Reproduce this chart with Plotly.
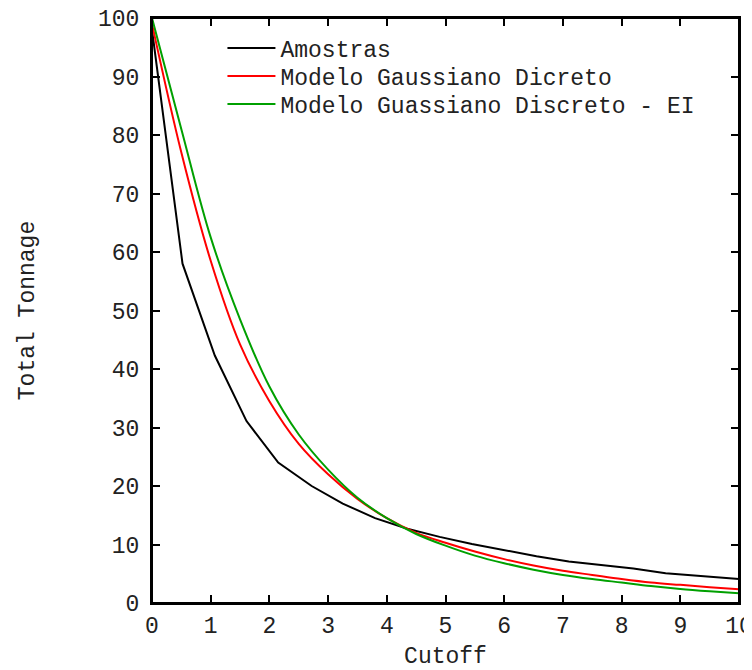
import plotly.graph_objects as go

# Data
amostras_x = [0, 0.52, 1.07, 1.61, 2.15, 2.72, 3.25, 3.8, 4.35, 4.9, 5.45, 6.0, 6.55, 7.1, 7.65, 8.2, 8.75, 9.3, 10]
amostras_y = [98, 58, 42.3, 31.1, 24, 20, 17, 14.5, 12.7, 11.3, 10.1, 9.0, 8.0, 7.1, 6.5, 5.9, 5.1, 4.7, 4.1]

modelo_x = [0, 0.5, 1, 1.5, 2, 2.5, 3, 3.5, 4, 4.5, 5, 5.5, 6, 6.5, 7, 7.5, 8, 8.5, 9, 9.5, 10]
gauss_y = [99, 77, 58.5, 44.2, 34.5, 27.2, 22, 17.8, 14.5, 12.0, 10.3, 8.8, 7.5, 6.4, 5.5, 4.8, 4.1, 3.5, 3.1, 2.7, 2.35]
gauss_ei_y = [100, 81, 62.5, 48.5, 37, 28.8, 22.8, 18, 14.5, 11.8, 9.8, 8.1, 6.8, 5.7, 4.8, 4.1, 3.5, 2.9, 2.4, 2.0, 1.65]

series_names = ["Amostras", "Modelo Gaussiano Dicreto", "Modelo Guassiano Discreto - EI"]

x_ticks = list(range(0, 11))
y_ticks = list(range(0, 101, 10))
x_range = [0, 10]
y_range = [0, 100]

FONT = "Liberation Mono, Courier New, monospace"
TXT = "#222222"

fig = go.Figure()
fig.add_trace(go.Scatter(x=amostras_x, y=amostras_y, mode="lines", name=series_names[0],
                         line=dict(color="#000000", width=2), legend="legend"))
fig.add_trace(go.Scatter(x=modelo_x, y=gauss_y, mode="lines", name=series_names[1],
                         line=dict(color="#ff0000", width=2, shape="spline"), legend="legend2"))
fig.add_trace(go.Scatter(x=modelo_x, y=gauss_ei_y, mode="lines", name=series_names[2],
                         line=dict(color="#00a000", width=2, shape="spline"), legend="legend3"))
fig.add_trace(go.Scatter(x=[], y=[], xaxis="x2", yaxis="y2", showlegend=False, hoverinfo="skip"))

axis_common = dict(showline=True, linecolor="#000000", linewidth=2, mirror="allticks",
                   ticks="inside", ticklen=8, tickwidth=2, tickcolor="#000000",
                   showgrid=False, zeroline=False, automargin=False,
                   ticklabeloverflow="allow",
                   tickfont=dict(family=FONT, size=23, color=TXT))

mirror_axis = dict(showline=True, linecolor="#000000", linewidth=2,
                   ticks="inside", ticklen=8, tickwidth=2, tickcolor="#000000",
                   showgrid=False, zeroline=False, automargin=False,
                   showticklabels=False)

legend_common = dict(x=0.12, xanchor="left", yanchor="middle",
                     bgcolor="rgba(0,0,0,0)", borderwidth=0,
                     font=dict(family=FONT, size=23, color=TXT),
                     itemwidth=48)

fig.update_layout(
    width=744, height=662,
    margin=dict(l=144, r=13, t=10, b=67),
    paper_bgcolor="white", plot_bgcolor="white",
    font=dict(family=FONT, size=23, color=TXT),
    xaxis=dict(range=x_range, tickvals=x_ticks, ticktext=[str(v) for v in x_ticks],
               title=dict(text="Cutoff", font=dict(family=FONT, size=23, color=TXT), standoff=9),
               **axis_common),
    yaxis=dict(range=y_range, tickvals=y_ticks, ticktext=[str(v) for v in y_ticks],
               ticklabelstandoff=6,
               title=dict(text="Total Tonnage", font=dict(family=FONT, size=23, color=TXT), standoff=57),
               **axis_common),
    xaxis2=dict(overlaying="x", side="top", anchor="y2", range=x_range, tickvals=x_ticks, **mirror_axis),
    yaxis2=dict(overlaying="y", side="right", anchor="x2", range=y_range, tickvals=y_ticks, **mirror_axis),
    legend=dict(y=0.9487, **legend_common),
    legend2=dict(y=0.9009, **legend_common),
    legend3=dict(y=0.853, **legend_common),
    showlegend=True,
)
fig.add_shape(type="rect", xref="paper", yref="paper", x0=0, y0=0, x1=1, y1=1,
              line=dict(color="#000000", width=2), fillcolor="rgba(0,0,0,0)", layer="above")

fig.write_html("out.html")
